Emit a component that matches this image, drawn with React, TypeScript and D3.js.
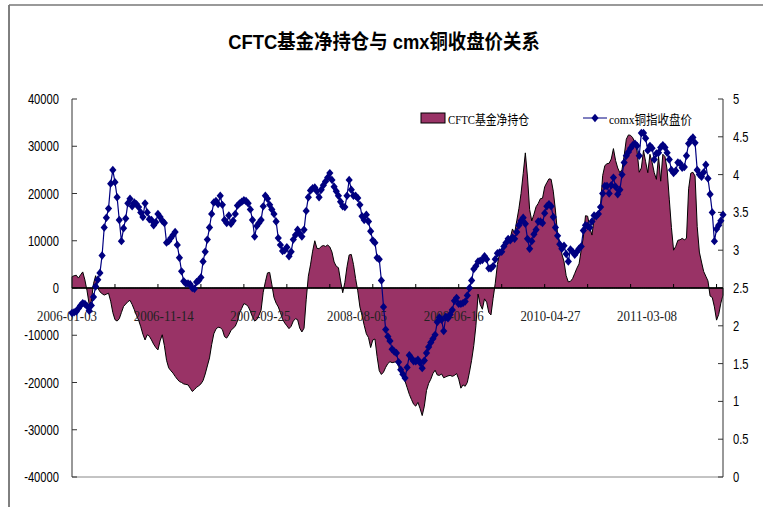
import React, { useEffect, useRef } from 'react';
import * as d3 from 'd3';

const TITLE = 'CFTC基金净持仓与 cmx铜收盘价关系';
const seriesNames = ['CFTC基金净持仓', 'comx铜指收盘价'];

// weekly observations, first week 2006-01-03
const START_DATE = '2006-01-03';

// CFTC fund net positions (contracts), left axis
const netPositions = [
  2400, 2600, 2700, 2100, 2800, 3400, 1700, -600, -3500, -2800,
  900, 2600, 0, -800, -1200, -1500, -1300, -1100, -2800, -5200,
  -6700, -7000, -6500, -5200, -3900, -3400, -2900, -2600, -3500, -4600,
  -5800, -6800, -8200, -9800, -11000, -9900, -10200, -11000, -11900, -12600,
  -13100, -11200, -9900, -12200, -15300, -16900, -17500, -18000, -18700, -19300,
  -19800, -20000, -20300, -20400, -20500, -21200, -21900, -21500, -21000, -20700,
  -20300, -19600, -18200, -16500, -14800, -12000, -9700, -8700, -8300, -8400,
  -8800, -10300, -10600, -9900, -9000, -8500, -8100, -7000, -5300, -4300,
  -3300, -3500, -3900, -4900, -6100, -7000, -6700, -5800, -4700, -900,
  1300, 3200, 3300, 800, -2000, -3200, -4000, -5200, -6600, -7400,
  -8000, -8600, -8100, -7000, -6500, -6700, -8500, -9300, -8500, -2500,
  2500, 4900, 7800, 10000, 8400, 8300, 8800, 9000, 8800, 9100,
  8700, 7600, 5500, 4600, 4300, 1500, -1000, 1200, 4500, 7000,
  7100, 5000, 2000, -600, -4000, -5800, -7900, -9700, -10500, -12600,
  -11000, -10800, -14500, -17500, -18300, -17800, -16800, -16000, -15600, -15800,
  -15700, -15600, -16600, -17800, -18700, -19700, -21100, -22500, -23600, -24600,
  -25000, -24200, -25500, -27000, -25000, -21700, -20200, -19300, -18100, -17400,
  -18400, -18500, -18200, -19000, -18800, -18600, -18500, -18700, -18500, -18100,
  -19300, -21200, -20500, -20800, -20000, -17800, -15300, -12200, -8000, -1300,
  -3500, -4500, -2300, -3000, -5200, -5700, -2200, 1000, 5000, 7300,
  8000, 8600, 9200, 9900, 10600, 12500, 11600, 14200, 16800, 20000,
  24200, 28600, 23500, 16600, 14200, 15600, 17200, 17900, 18900, 19000,
  21400, 22300, 23100, 23000, 20500, 16500, 11500, 9800, 7200, 5600,
  2600, 1300, 1400, 2000, 3100, 4200, 5100, 8000, 10800, 15300,
  15200, 12800, 11200, 14600, 15100, 15200, 17600, 23800, 25900, 26300,
  26400, 27300, 29500, 27000, 25400, 24400, 25100, 28000, 31500, 32400,
  32300, 31800, 30700, 29000, 24500, 25400, 29100, 26700, 24400, 28300,
  26600, 24400, 23000, 27900, 22600, 28300, 27800, 25000, 18800, 12800,
  8000, 8800, 10100, 10200, 10500, 10200, 10500, 21000, 24300, 24500,
  23700, 13000, 7600, 5500, 3500, 2500, 1500, -1700, -2000, -4000,
  -6800, -5600, -3200, -1500,
];

// COMEX copper close ($/lb), right axis
const copperClose = [
  2.17, 2.18, 2.19, 2.23, 2.27, 2.30, 2.29, 2.26, 2.20, 2.27,
  2.38, 2.52, 2.61, 2.70, 2.93, 3.30, 3.43, 3.55, 3.88, 4.06,
  3.90, 3.70, 3.40, 3.12, 3.29, 3.42, 3.62, 3.68, 3.58, 3.63,
  3.61, 3.57, 3.50, 3.44, 3.62, 3.50, 3.41, 3.40, 3.33, 3.37,
  3.48, 3.44, 3.39, 3.36, 3.10, 3.12, 3.16, 3.20, 3.24, 3.07,
  2.90, 2.72, 2.59, 2.56, 2.56, 2.55, 2.50, 2.49, 2.58, 2.60,
  2.64, 2.85, 2.98, 3.14, 3.30, 3.48, 3.63, 3.65, 3.61, 3.72,
  3.60, 3.40, 3.36, 3.46, 3.35, 3.39, 3.48, 3.59, 3.62, 3.64,
  3.66, 3.65, 3.62, 3.54, 3.40, 3.18, 3.32, 3.36, 3.40, 3.58,
  3.72, 3.68, 3.60, 3.54, 3.48, 3.38, 3.16, 3.07, 2.99, 3.00,
  3.04, 2.92, 2.98, 3.14, 3.20, 3.27, 3.22, 3.18, 3.27, 3.52,
  3.70, 3.79, 3.82, 3.83, 3.78, 3.70, 3.80, 3.86, 3.91, 3.96,
  4.02, 3.93, 3.84, 3.78, 3.72, 3.64, 3.58, 3.57, 3.72, 3.93,
  3.80, 3.72, 3.72, 3.69, 3.60, 3.45, 3.40, 3.47, 3.38, 3.25,
  3.13, 3.10, 2.90, 2.88, 2.60, 2.25, 1.95, 1.86, 1.80, 1.69,
  1.66, 1.64, 1.52, 1.42, 1.36, 1.31, 1.45, 1.61, 1.57, 1.53,
  1.53, 1.55, 1.51, 1.44, 1.54, 1.64, 1.72, 1.78, 1.83, 1.88,
  2.05, 2.11, 2.08, 1.93, 2.12, 2.10, 2.15, 2.21, 2.33, 2.37,
  2.29, 2.29, 2.30, 2.32, 2.40, 2.50, 2.60, 2.75, 2.79, 2.85,
  2.86, 2.87, 2.92, 2.88, 2.76, 2.76, 2.79, 2.88, 2.96, 2.97,
  2.98, 3.05, 3.10, 3.15, 3.13, 3.17, 3.15, 3.24, 3.33, 3.39,
  3.43, 3.35, 3.15, 3.02, 3.12, 3.21, 3.27, 3.38, 3.38, 3.36,
  3.49, 3.58, 3.61, 3.58, 3.44, 3.30, 3.19, 3.08, 3.02, 3.06,
  2.95, 2.85, 3.01, 2.98, 2.94, 2.98, 3.02, 3.05, 3.26, 3.33,
  3.32, 3.30, 3.38, 3.46, 3.45, 3.48, 3.57, 3.75, 3.85, 3.85,
  3.75, 3.86, 3.96, 3.84, 3.74, 3.80, 4.00, 4.16, 4.25, 4.30,
  4.35, 4.39, 4.41, 4.38, 4.25, 4.55, 4.55, 4.48, 4.32, 4.38,
  4.35, 4.20, 4.28, 4.29, 4.36, 4.39, 4.36, 4.29, 4.20, 4.06,
  4.02, 4.05, 4.16, 4.15, 4.09, 4.10, 4.25, 4.41, 4.46, 4.49,
  4.42, 4.06, 4.00, 3.97, 4.03, 4.13, 3.95, 3.74, 3.50, 3.12,
  3.28, 3.33, 3.39, 3.47,
];

const xTickLabels = ['2006-01-03', '2006-11-14', '2007-09-25', '2008-08-05', '2009-06-16', '2010-04-27', '2011-03-08'];
const leftTicks = [-40000, -30000, -20000, -10000, 0, 10000, 20000, 30000, 40000];
const rightTicks = [0, 0.5, 1, 1.5, 2, 2.5, 3, 3.5, 4, 4.5, 5];

const fmtDate = d3.utcFormat('%Y-%m-%d');
const weeks = netPositions.map((_, i) => fmtDate(d3.utcDay.offset(new Date(START_DATE), 7 * i)));

const W = 763;
const H = 507;
const PLOT = { left: 72, right: 723, top: 99, bottom: 477 };
const AREA_COLOR = '#993366';
const LINE_COLOR = '#000080';
const AXIS_FONT = "'Liberation Sans', Arial, sans-serif";
const SERIF_FONT = "'Liberation Serif', 'Noto Sans CJK SC', serif";
const diamond = 'M0,-4.2L3.6,0L0,4.2L-3.6,0Z';

const App = () => {
  const ref = useRef<SVGSVGElement>(null);

  useEffect(() => {
    const svg = d3.select(ref.current);
    svg.selectAll('*').remove();

    const x = d3.scalePoint<string>().domain(weeks).range([PLOT.left, PLOT.right]);
    const yLeft = d3.scaleLinear().domain([-40000, 40000]).range([PLOT.bottom, PLOT.top]);
    const yRight = d3.scaleLinear().domain([0, 5]).range([PLOT.bottom, PLOT.top]);
    const zeroY = yLeft(0);

    // outer frame (only top and left edges show in the picture)
    svg.append('line').attr('x1', 9).attr('x2', 9).attr('y1', 5).attr('y2', H).attr('stroke', '#000');
    svg.append('line').attr('x1', 9).attr('x2', W).attr('y1', 5).attr('y2', 5)
      .attr('stroke', '#777').attr('stroke-width', 1.5);

    // title
    svg.append('text')
      .attr('transform', 'translate(384, 49) scale(0.92, 1)')
      .attr('text-anchor', 'middle')
      .attr('font-family', "'Liberation Sans', 'Noto Sans CJK SC', sans-serif")
      .attr('font-size', 20)
      .attr('font-weight', 'bold')
      .text(TITLE);

    // net positions area
    const area = d3.area<number>()
      .x((_, i) => x(weeks[i])!)
      .y0(zeroY)
      .y1(d => yLeft(d));
    svg.append('path')
      .datum(netPositions)
      .attr('d', area)
      .attr('fill', AREA_COLOR)
      .attr('stroke', '#000')
      .attr('stroke-width', 1)
      .attr('stroke-linejoin', 'round');

    // bottom edge of plot
    svg.append('line')
      .attr('x1', PLOT.left).attr('x2', PLOT.right)
      .attr('y1', PLOT.bottom).attr('y2', PLOT.bottom)
      .attr('stroke', '#888');

    // left axis
    svg.append('line')
      .attr('x1', PLOT.left).attr('x2', PLOT.left)
      .attr('y1', PLOT.top).attr('y2', PLOT.bottom)
      .attr('stroke', '#333');
    leftTicks.forEach(t => {
      const y = yLeft(t);
      svg.append('line').attr('x1', PLOT.left).attr('x2', PLOT.left + 5)
        .attr('y1', y).attr('y2', y).attr('stroke', '#333');
      svg.append('text')
        .attr('transform', `translate(59, ${y + 5}) scale(0.8, 1)`)
        .attr('text-anchor', 'end')
        .attr('font-family', AXIS_FONT)
        .attr('font-size', 14)
        .text(t);
    });

    // right axis
    svg.append('line')
      .attr('x1', PLOT.right).attr('x2', PLOT.right)
      .attr('y1', PLOT.top).attr('y2', PLOT.bottom)
      .attr('stroke', '#333');
    rightTicks.forEach(t => {
      const y = yRight(t);
      svg.append('line').attr('x1', PLOT.right - 5).attr('x2', PLOT.right)
        .attr('y1', y).attr('y2', y).attr('stroke', '#333');
      svg.append('text')
        .attr('transform', `translate(733, ${y + 5}) scale(0.8, 1)`)
        .attr('font-family', AXIS_FONT)
        .attr('font-size', 14)
        .text(t);
    });

    // category axis on the zero line
    svg.append('line')
      .attr('x1', PLOT.left).attr('x2', PLOT.right)
      .attr('y1', zeroY).attr('y2', zeroY)
      .attr('stroke', '#000')
      .attr('stroke-width', 1.5);
    weeks.forEach((w, i) => {
      if (i === 0 || i % 20 !== 0) return;
      svg.append('line').attr('x1', x(w)!).attr('x2', x(w)!)
        .attr('y1', zeroY).attr('y2', zeroY - 4).attr('stroke', '#000');
    });
    xTickLabels.forEach(lbl => {
      svg.append('text')
        .attr('x', x(lbl)! - 5)
        .attr('y', 321)
        .attr('text-anchor', 'middle')
        .attr('font-family', SERIF_FONT)
        .attr('font-size', 15)
        .attr('textLength', 60)
        .attr('lengthAdjust', 'spacingAndGlyphs')
        .attr('fill', '#222')
        .text(lbl);
    });

    // copper close line with diamond markers
    const line = d3.line<number>()
      .x((_, i) => x(weeks[i])!)
      .y(d => yRight(d));
    svg.append('path')
      .datum(copperClose)
      .attr('d', line)
      .attr('fill', 'none')
      .attr('stroke', LINE_COLOR)
      .attr('stroke-width', 1.2);
    svg.append('g')
      .selectAll('path')
      .data(copperClose)
      .join('path')
      .attr('d', diamond)
      .attr('transform', (d, i) => `translate(${x(weeks[i])}, ${yRight(d)})`)
      .attr('fill', LINE_COLOR);

    // legend
    svg.append('rect')
      .attr('x', 421).attr('y', 113).attr('width', 24).attr('height', 10)
      .attr('fill', AREA_COLOR).attr('stroke', '#000');
    svg.append('text')
      .attr('x', 448).attr('y', 124)
      .attr('font-family', SERIF_FONT)
      .attr('font-size', 13)
      .attr('textLength', 81)
      .attr('lengthAdjust', 'spacingAndGlyphs')
      .text(seriesNames[0]);
    svg.append('line')
      .attr('x1', 583).attr('x2', 607).attr('y1', 118).attr('y2', 118)
      .attr('stroke', LINE_COLOR);
    svg.append('path')
      .attr('d', diamond)
      .attr('transform', 'translate(595, 118)')
      .attr('fill', LINE_COLOR);
    svg.append('text')
      .attr('x', 609).attr('y', 124)
      .attr('font-family', SERIF_FONT)
      .attr('font-size', 13)
      .attr('textLength', 83)
      .attr('lengthAdjust', 'spacingAndGlyphs')
      .text(seriesNames[1]);
  }, []);

  return (
    <svg
      ref={ref}
      width={W}
      height={H}
      style={{ position: 'absolute', left: 0, top: 0, background: '#fff' }}
    />
  );
};

export default App;
